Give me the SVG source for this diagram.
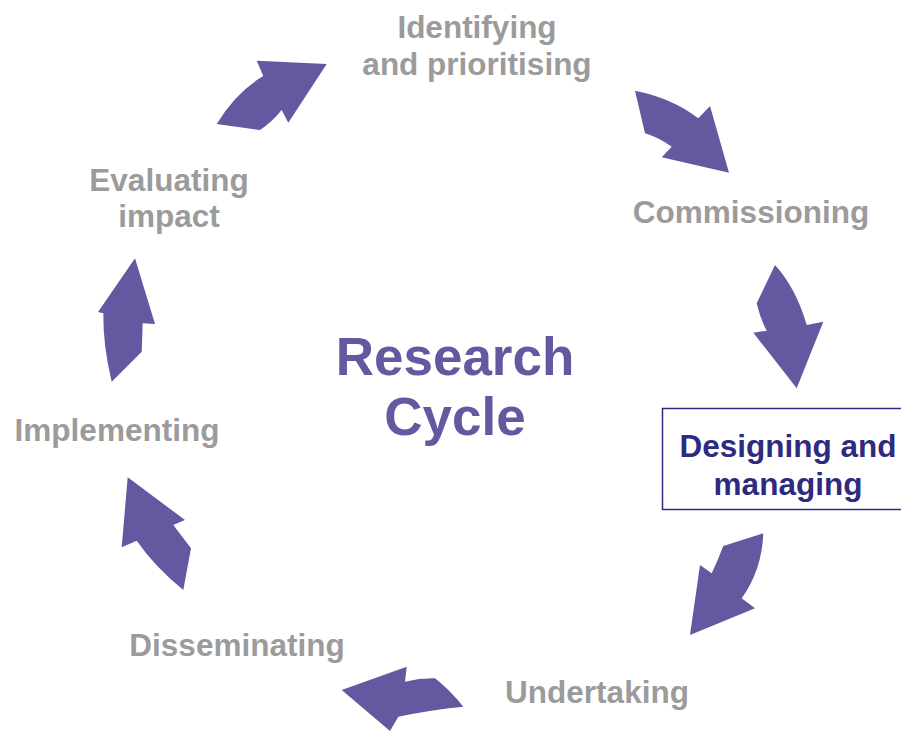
<svg xmlns="http://www.w3.org/2000/svg" width="901" height="731" viewBox="0 0 901 731">
<style>
.lbl{font-family:"Liberation Sans",Arial,sans-serif;font-weight:bold;font-size:31.5px;fill:#9b9b9b;text-anchor:middle}
.sel{fill:#2e2a80}
.title{font-family:"Liberation Sans",Arial,sans-serif;font-weight:bold;font-size:53px;fill:#6558a0;text-anchor:middle}
.arr{fill:#6558a0}
</style>
<rect width="901" height="731" fill="#ffffff"/>
<g id="connectors">
<path class="arr" d="M216.7,124 Q236,92 263.3,76 L256.7,60.7 L326.7,64 L288.3,122.7 L281.7,110 Q272,122 260,130 Z"/>
<path class="arr" d="M635,90.7 Q672,98 698.3,118.3 L710,106 L729,172.7 L661.7,157.3 L671.7,146.7 Q658,137 645,133.3 Z"/>
<path class="arr" d="M775,265 Q796,288 806.7,325 L823.3,321.7 L796.7,388.3 L753.3,332.7 L766.7,330.7 Q760,318 756.7,303.3 Z"/>
<path class="arr" d="M763.3,533.3 Q762,570 741.7,598.3 L755,608.3 L690,635 L700,565 L711.7,573.3 Q718,560 723.3,546 Z"/>
<path class="arr" d="M341.7,690 L406.7,666.7 L405,681.7 Q420,678 435,678.3 Q450,690 463.3,706.7 Q430,710 398.3,716.7 L390,731 Z"/>
<path class="arr" d="M127.7,477.3 L185,520 L173.3,525 L191,548.3 L183.3,590 Q155,567 136.7,540.7 L121.7,547.3 Z"/>
<path class="arr" d="M135,258.3 L155,324 L142.7,323.3 L141.7,351.7 L111.7,381.7 Q103,346 103.3,313.3 L98,312 Z"/>
</g>
<g id="center"><text class="title" x="455" y="375">Research</text><text class="title" x="455" y="435">Cycle</text></g>
<g id="identifying"><text class="lbl" x="477" y="38">Identifying</text><text class="lbl" x="477" y="75">and prioritising</text></g>
<g id="commissioning"><text class="lbl" x="751" y="223">Commissioning</text></g>
<g id="designing"><rect x="662.5" y="408.5" width="245" height="101" fill="none" stroke="#2e2a80" stroke-width="1.5"/><text class="lbl sel" x="788" y="457">Designing and</text><text class="lbl sel" x="788" y="495">managing</text></g>
<g id="undertaking"><text class="lbl" x="597" y="703">Undertaking</text></g>
<g id="disseminating"><text class="lbl" x="237" y="656">Disseminating</text></g>
<g id="implementing"><text class="lbl" x="117" y="441">Implementing</text></g>
<g id="evaluating"><text class="lbl" x="169" y="191">Evaluating</text><text class="lbl" x="169" y="227">impact</text></g>
</svg>
